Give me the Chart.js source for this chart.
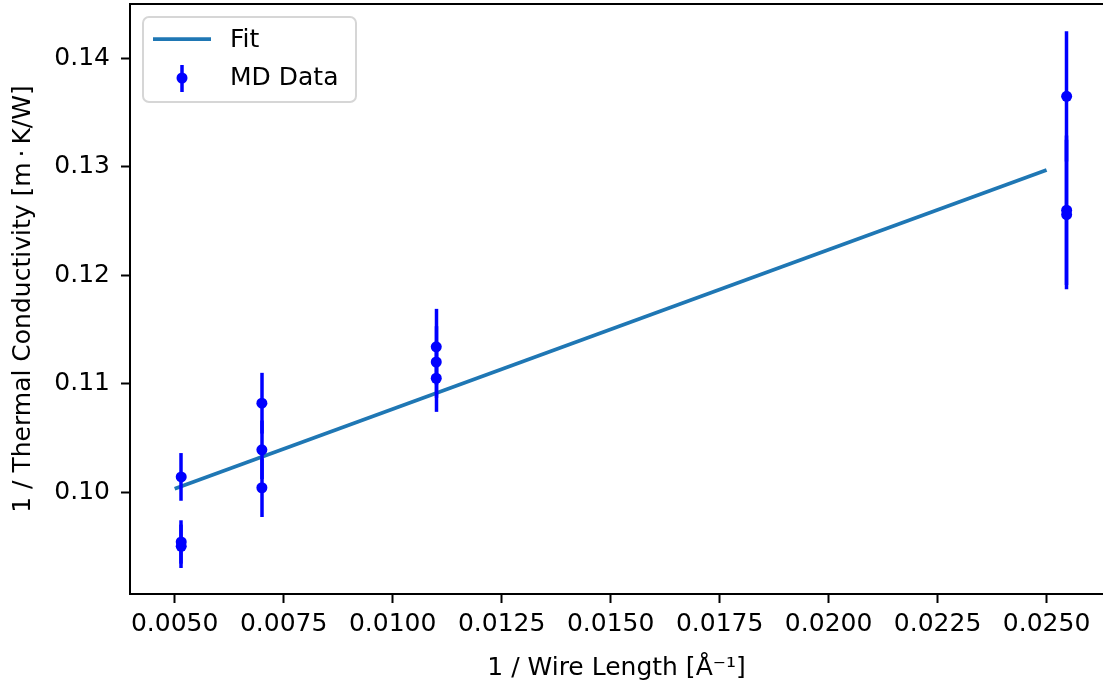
<!DOCTYPE html>
<html>
<head>
<meta charset="utf-8">
<script src="https://cdn.jsdelivr.net/npm/chart.js@4/dist/chart.umd.min.js"></script>
<style>
  html, body { margin: 0; padding: 0; background: #ffffff; }
  #wrap { width: 1103px; height: 686px; position: relative; }
</style>
</head>
<body>
<div id="wrap"><canvas id="c"></canvas></div>
<script>
// Linear fit of inverse conductivity against inverse wire length
const fitX = [0.005, 0.025];
const fitY = [0.1003, 0.1297];

// MD samples (three runs per wire length) with their standard errors
const mdX   = [0.00515, 0.00515, 0.00515, 0.0070, 0.0070, 0.0070, 0.0110, 0.0110, 0.0110, 0.02546, 0.02546, 0.02546];
const mdY   = [0.1014, 0.0954, 0.0950, 0.1082, 0.1039, 0.1004, 0.1134, 0.1120, 0.1105, 0.1365, 0.1260, 0.1256];
const mdErr = [0.0022, 0.0020, 0.0020, 0.0028, 0.0027, 0.0027, 0.0035, 0.0033, 0.0031, 0.0060, 0.0069, 0.0069];

const xTicks = [0.005, 0.0075, 0.01, 0.0125, 0.015, 0.0175, 0.02, 0.0225, 0.025];
const yTicks = [0.10, 0.11, 0.12, 0.13, 0.14];

const FONT = 'DejaVu Sans';
const INK = '#000000';

// vertical error bars for the MD dataset, drawn through the chart scales
const errorBars = {
  id: 'errorBars',
  beforeDatasetDraw(chart, args) {
    const ds = chart.data.datasets[args.index];
    if (!ds.errors) return;
    const { ctx, scales: { x, y } } = chart;
    ctx.save();
    ctx.strokeStyle = ds.borderColor;
    ctx.lineWidth = 3.5;
    ctx.lineCap = 'butt';
    ds.data.forEach((p, i) => {
      const px = Math.round(x.getPixelForValue(p.x) * 2) / 2;
      ctx.beginPath();
      ctx.moveTo(px, y.getPixelForValue(p.y - ds.errors[i]));
      ctx.lineTo(px, y.getPixelForValue(p.y + ds.errors[i]));
      ctx.stroke();
    });
    ctx.restore();
  }
};

// top spine plus a framed legend in the upper-left corner
const frameAndLegend = {
  id: 'frameAndLegend',
  afterDraw(chart) {
    const { ctx, chartArea: a } = chart;
    ctx.save();
    ctx.strokeStyle = INK;
    ctx.lineWidth = 2;
    ctx.beginPath();
    ctx.moveTo(a.left - 1, a.top);
    ctx.lineTo(chart.width, a.top);
    ctx.stroke();

    // legend box
    const bx = 143, by = 17, bw = 213, bh = 85, r = 6;
    ctx.beginPath();
    ctx.moveTo(bx + r, by);
    ctx.arcTo(bx + bw, by, bx + bw, by + bh, r);
    ctx.arcTo(bx + bw, by + bh, bx, by + bh, r);
    ctx.arcTo(bx, by + bh, bx, by, r);
    ctx.arcTo(bx, by, bx + bw, by, r);
    ctx.closePath();
    ctx.fillStyle = 'rgba(255,255,255,0.8)';
    ctx.fill();
    ctx.strokeStyle = '#d6d6d6';
    ctx.lineWidth = 2;
    ctx.stroke();

    const [fit, md] = chart.data.datasets;
    // fit entry
    ctx.strokeStyle = fit.borderColor;
    ctx.lineWidth = 3.75;
    ctx.beginPath();
    ctx.moveTo(153, 39);
    ctx.lineTo(211, 39);
    ctx.stroke();
    // MD entry: marker with error bar
    ctx.strokeStyle = md.borderColor;
    ctx.lineWidth = 3.5;
    ctx.beginPath();
    ctx.moveTo(182, 65);
    ctx.lineTo(182, 92);
    ctx.stroke();
    ctx.fillStyle = md.backgroundColor;
    ctx.beginPath();
    ctx.arc(182, 78, 5.5, 0, Math.PI * 2);
    ctx.fill();

    ctx.fillStyle = INK;
    ctx.font = '25px "' + FONT + '"';
    ctx.textBaseline = 'middle';
    ctx.textAlign = 'left';
    ctx.fillText(fit.label, 230, 40);
    ctx.fillText(md.label, 230, 78);
    ctx.restore();
  }
};

new Chart(document.getElementById('c'), {
  type: 'scatter',
  data: {
    datasets: [
      {
        label: 'Fit',
        data: fitX.map((v, i) => ({ x: v, y: fitY[i] })),
        showLine: true,
        borderColor: '#1f77b4',
        borderWidth: 3.75,
        pointRadius: 0,
        order: 1
      },
      {
        label: 'MD Data',
        data: mdX.map((v, i) => ({ x: v, y: mdY[i] })),
        errors: mdErr,
        showLine: false,
        borderColor: '#0000ff',
        backgroundColor: '#0000ff',
        pointRadius: 5.5,
        pointBorderWidth: 0,
        order: 0
      }
    ]
  },
  options: {
    responsive: true,
    maintainAspectRatio: false,
    animation: false,
    layout: { autoPadding: false, padding: { top: 4, right: 0, left: 0, bottom: 0 } },
    plugins: { legend: { display: false }, tooltip: { enabled: false } },
    scales: {
      x: {
        type: 'linear',
        min: 0.003975,
        max: 0.026294,
        afterBuildTicks: (s) => { s.ticks = xTicks.map(v => ({ value: v })); },
        afterFit: (s) => { s.height = 92; s.paddingLeft = 0; s.paddingRight = 0; },
        grid: { drawOnChartArea: false, drawTicks: true, tickLength: 9, tickWidth: 2, tickColor: INK },
        border: { display: true, color: INK, width: 2 },
        ticks: {
          autoSkip: false, maxRotation: 0, padding: 6, color: INK,
          font: { family: FONT, size: 25 },
          callback: (v) => Number(v).toFixed(4)
        },
        title: {
          display: true,
          text: '1 / Wire Length [Å⁻¹]',
          color: INK,
          font: { family: FONT, size: 25 },
          padding: { top: 0, bottom: 3 }
        }
      },
      y: {
        type: 'linear',
        min: 0.0906,
        max: 0.14502,
        afterBuildTicks: (s) => { s.ticks = yTicks.map(v => ({ value: v })); },
        afterFit: (s) => { s.width = 130; s.paddingTop = 0; s.paddingBottom = 0; },
        grid: { drawOnChartArea: false, drawTicks: true, tickLength: 9, tickWidth: 2, tickColor: INK },
        border: { display: true, color: INK, width: 2 },
        ticks: {
          padding: 11, color: INK,
          font: { family: FONT, size: 25 },
          callback: (v) => Number(v).toFixed(2)
        },
        title: {
          display: true,
          text: '1 / Thermal Conductivity [m\u2009·\u2009K/W]',
          color: INK,
          font: { family: FONT, size: 25 },
          padding: { top: 8, bottom: 0 }
        }
      }
    }
  },
  plugins: [errorBars, frameAndLegend]
});
</script>
</body>
</html>
